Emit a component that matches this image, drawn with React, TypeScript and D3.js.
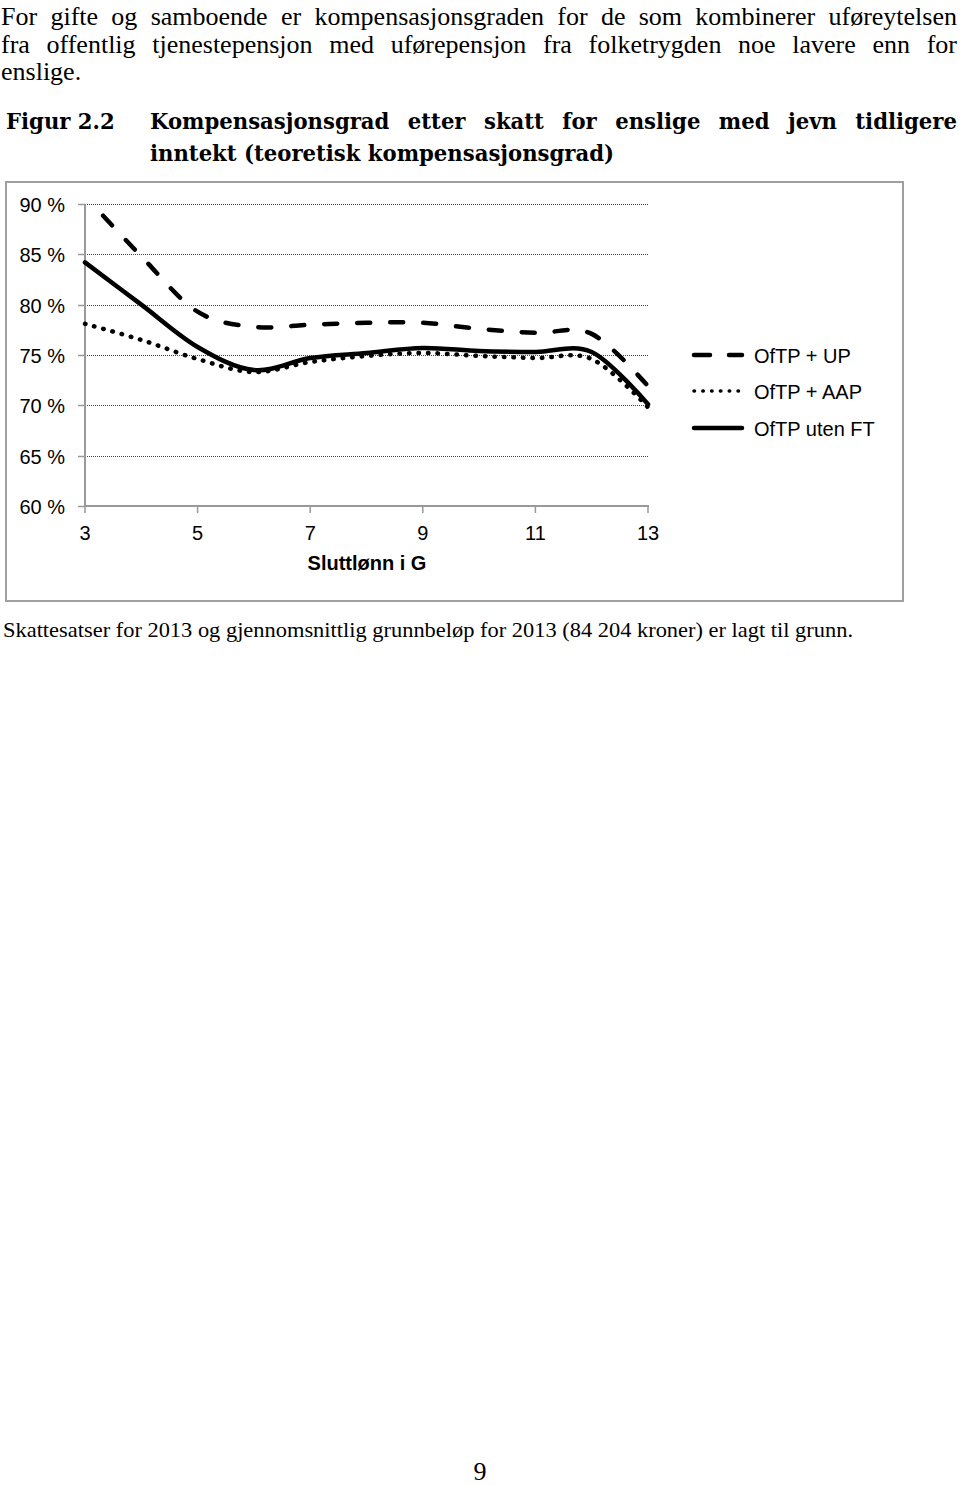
import React, { useEffect, useRef } from "react";
import * as d3 from "d3";

// Data
const salaryG = [3, 4, 5, 6, 7, 8, 9, 10, 11, 12, 13];
const ofTpUp = [90.8, 84.8, 79.3, 77.8, 78.0, 78.2, 78.2, 77.6, 77.2, 77.1, 71.9];
const ofTpAap = [78.1, 76.5, 74.6, 73.3, 74.3, 74.9, 75.2, 74.9, 74.7, 74.6, 69.8];
const ofTpUtenFt = [84.2, 80.0, 75.8, 73.5, 74.7, 75.2, 75.7, 75.4, 75.3, 75.3, 70.1];
const seriesNames = ["OfTP + UP", "OfTP + AAP", "OfTP uten FT"];
const yTicks = [60, 65, 70, 75, 80, 85, 90];
const xTicks = [3, 5, 7, 9, 11, 13];

const para1 = "For gifte og samboende er kompensasjonsgraden for de som kombinerer uføreytelsen";
const para2 = "fra offentlig tjenestepensjon med uførepensjon fra folketrygden noe lavere enn for";
const para3 = "enslige.";
const figLabel = "Figur 2.2";
const title1 = "Kompensasjonsgrad etter skatt for enslige med jevn tidligere";
const title2 = "inntekt (teoretisk kompensasjonsgrad)";
const xTitle = "Sluttlønn i G";
const caption = "Skattesatser for 2013 og gjennomsnittlig grunnbeløp for 2013 (84 204 kroner) er lagt til grunn.";
const pageNo = "9";

export default function App() {
  const ref = useRef<SVGSVGElement>(null);

  useEffect(() => {
    const svg = d3.select(ref.current);
    svg.selectAll("*").remove();
    const serif = "'Liberation Serif', 'Times New Roman', serif";
    const headSerif = "'DejaVu Serif', 'Liberation Serif', serif";
    const sans = "'Liberation Sans', Arial, sans-serif";

    const addText = (t: string, x: number, y: number, family: string, size: number, weight = "normal") =>
      svg.append("text").text(t).attr("x", x).attr("y", y).attr("font-family", family)
        .attr("font-size", size).attr("font-weight", weight).attr("fill", "#000");

    const justify = (text: string, x0: number, x1: number, y: number, family: string, size: number,
      weight: string, scale = 1) => {
      const words = text.split(" ");
      const nodes = words.map((w) => addText(w, 0, y, family, size, weight));
      const widths = nodes.map((n) => (n.node() as SVGTextElement).getComputedTextLength() * scale);
      if (scale !== 1) nodes.forEach((n, i) => n.attr("textLength", widths[i]).attr("lengthAdjust", "spacingAndGlyphs"));
      const total = d3.sum(widths);
      const gap = (x1 - x0 - total) / (words.length - 1);
      let x = x0;
      nodes.forEach((n, i) => { n.attr("x", x); x += widths[i] + gap; });
    };

    // Paragraph text
    justify(para1, 1, 957, 25, serif, 26, "normal");
    justify(para2, 1, 957, 53, serif, 26, "normal");
    addText(para3, 1, 80, serif, 26);

    // Figure heading (wide bold serif)
    const t2 = addText(title2, 150, 161, headSerif, 22, "bold");
    const natural = (t2.node() as SVGTextElement).getComputedTextLength();
    const headScale = 464 / natural;
    t2.attr("textLength", 464).attr("lengthAdjust", "spacingAndGlyphs");
    const fl = addText(figLabel, 6, 129, headSerif, 22, "bold");
    const flw = (fl.node() as SVGTextElement).getComputedTextLength() * headScale;
    fl.attr("textLength", flw).attr("lengthAdjust", "spacingAndGlyphs");
    justify(title1, 150, 957, 129, headSerif, 22, "bold", headScale);

    // Chart frame
    svg.append("rect").attr("x", 6).attr("y", 182).attr("width", 897).attr("height", 419)
      .attr("fill", "none").attr("stroke", "#a0a0a0").attr("stroke-width", 2);

    const x = d3.scaleLinear().domain([3, 13]).range([85, 648]);
    const y = d3.scaleLinear().domain([60, 90]).range([506, 204]);

    // Gridlines
    svg.append("g").selectAll("line").data(yTicks.filter((t) => t > 60)).join("line")
      .attr("x1", 85).attr("x2", 648)
      .attr("y1", (d) => Math.round(y(d)) + 0.5).attr("y2", (d) => Math.round(y(d)) + 0.5)
      .attr("stroke", "#444").attr("stroke-width", 1).attr("stroke-dasharray", "1 1");

    // Y ticks
    svg.append("g").selectAll("line").data(yTicks).join("line")
      .attr("x1", 78).attr("x2", 85)
      .attr("y1", (d) => Math.round(y(d)) + 0.5).attr("y2", (d) => Math.round(y(d)) + 0.5)
      .attr("stroke", "#999").attr("stroke-width", 1.5);
    // Axis lines
    svg.append("line").attr("x1", 85).attr("x2", 85).attr("y1", y(90)).attr("y2", y(60) + 1)
      .attr("stroke", "#999").attr("stroke-width", 2);
    svg.append("line").attr("x1", 84).attr("x2", 649).attr("y1", y(60)).attr("y2", y(60))
      .attr("stroke", "#999").attr("stroke-width", 2);
    // X ticks
    svg.append("g").selectAll("line").data(xTicks).join("line")
      .attr("x1", (d) => x(d)).attr("x2", (d) => x(d))
      .attr("y1", y(60)).attr("y2", y(60) + 7)
      .attr("stroke", "#999").attr("stroke-width", 1.5);

    // Tick labels
    svg.append("g").selectAll("text").data(yTicks).join("text")
      .attr("x", 65).attr("y", (d) => y(d) + 8).attr("text-anchor", "end")
      .attr("font-family", sans).attr("font-size", 20).attr("fill", "#000")
      .text((d) => `${d} %`);
    svg.append("g").selectAll("text").data(xTicks).join("text")
      .attr("x", (d) => x(d)).attr("y", 540).attr("text-anchor", "middle")
      .attr("font-family", sans).attr("font-size", 20).attr("fill", "#000")
      .text((d) => String(d));
    addText(xTitle, 367, 570, sans, 20, "bold").attr("text-anchor", "middle");

    // Lines
    const defs = svg.append("defs");
    defs.append("clipPath").attr("id", "plotclip").append("rect")
      .attr("x", 80).attr("y", 204).attr("width", 578).attr("height", 305);
    const line = d3.line<number>().x((_, i) => x(salaryG[i])).y((d) => y(d)).curve(d3.curveCardinal.tension(0));
    const lines = svg.append("g").attr("clip-path", "url(#plotclip)");
    lines.append("path").attr("d", line(ofTpUp)).attr("fill", "none").attr("stroke", "#000")
      .attr("stroke-width", 4.5).attr("stroke-linecap", "round").attr("stroke-dasharray", "13 20")
      .attr("stroke-dashoffset", 6);
    lines.append("path").attr("d", line(ofTpAap)).attr("fill", "none").attr("stroke", "#000")
      .attr("stroke-width", 4.5).attr("stroke-linecap", "round").attr("stroke-dasharray", "0.5 9");
    lines.append("path").attr("d", line(ofTpUtenFt)).attr("fill", "none").attr("stroke", "#000")
      .attr("stroke-width", 4.5).attr("stroke-linecap", "round");

    // Legend
    const legendY = [355, 391, 428];
    const dashes = ["16 19", "0.5 8.3", null];
    const lg = svg.append("g");
    seriesNames.forEach((name, i) => {
      const l = lg.append("line").attr("x1", 694).attr("x2", 742)
        .attr("y1", legendY[i]).attr("y2", legendY[i])
        .attr("stroke", "#000").attr("stroke-width", i === 1 ? 3.5 : 4.5).attr("stroke-linecap", "round");
      if (dashes[i]) l.attr("stroke-dasharray", dashes[i] as string);
      lg.append("text").text(name).attr("x", 754).attr("y", legendY[i] + 8)
        .attr("font-family", sans).attr("font-size", 20).attr("fill", "#000");
    });

    // Caption and page number
    addText(caption, 3, 637, serif, 22).attr("textLength", 850).attr("lengthAdjust", "spacingAndGlyphs");
    addText(pageNo, 480, 1480, serif, 26).attr("text-anchor", "middle");
  }, []);

  return (
    <svg ref={ref} width={960} height={1485}
      style={{ position: "absolute", left: 0, top: 0, background: "#fff", display: "block" }} />
  );
}
